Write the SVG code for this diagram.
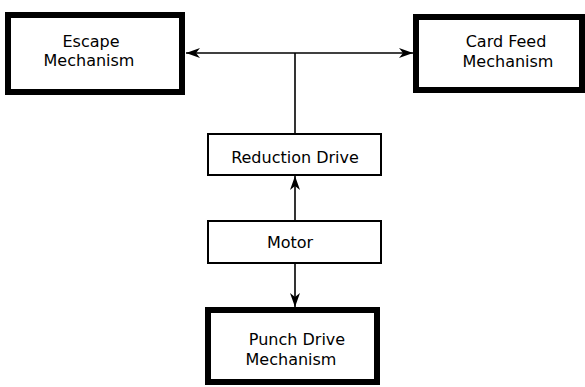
<svg xmlns="http://www.w3.org/2000/svg" width="585" height="387" viewBox="0 0 585 387">
<style>
.thick{fill:#fff;stroke:#000;stroke-width:6}
.thin{fill:#fff;stroke:#000;stroke-width:2}
text{font-family:"DejaVu Sans",sans-serif;font-size:16px;fill:#000;text-anchor:middle}
.c{stroke:#000;stroke-width:1.6;fill:none}
</style>
<defs>
<marker id="ah" viewBox="0 0 14 10" refX="14" refY="5" markerWidth="14" markerHeight="10" markerUnits="userSpaceOnUse" orient="auto-start-reverse">
<path d="M0,0 L14,5 L0,10 L4,5 Z" fill="#000"/>
</marker>
</defs>
<rect width="585" height="387" fill="#fff"/>
<g id="connectors">
<line class="c" x1="186" y1="53" x2="413" y2="53" marker-start="url(#ah)" marker-end="url(#ah)"/>
<line class="c" x1="295" y1="53" x2="295" y2="134"/>
<line class="c" x1="295" y1="221" x2="295" y2="176" marker-end="url(#ah)"/>
<line class="c" x1="295" y1="263" x2="295" y2="307" marker-end="url(#ah)"/>
</g>
<g id="escape">
<rect class="thick" x="8" y="15" width="174" height="77"/>
<text x="91" y="47">Escape</text>
<text x="89" y="66">Mechanism</text>
</g>
<g id="cardfeed">
<rect class="thick" x="416" y="17" width="166" height="73"/>
<text x="506" y="47">Card Feed</text>
<text x="508" y="67">Mechanism</text>
</g>
<g id="reduction">
<rect class="thin" x="208" y="134" width="173" height="41"/>
<text x="295" y="163">Reduction Drive</text>
</g>
<g id="motor">
<rect class="thin" x="208" y="221" width="173" height="42"/>
<text x="290" y="248">Motor</text>
</g>
<g id="punch">
<rect class="thick" x="208" y="310" width="169" height="72"/>
<text x="297" y="345">Punch Drive</text>
<text x="291" y="365">Mechanism</text>
</g>
</svg>
